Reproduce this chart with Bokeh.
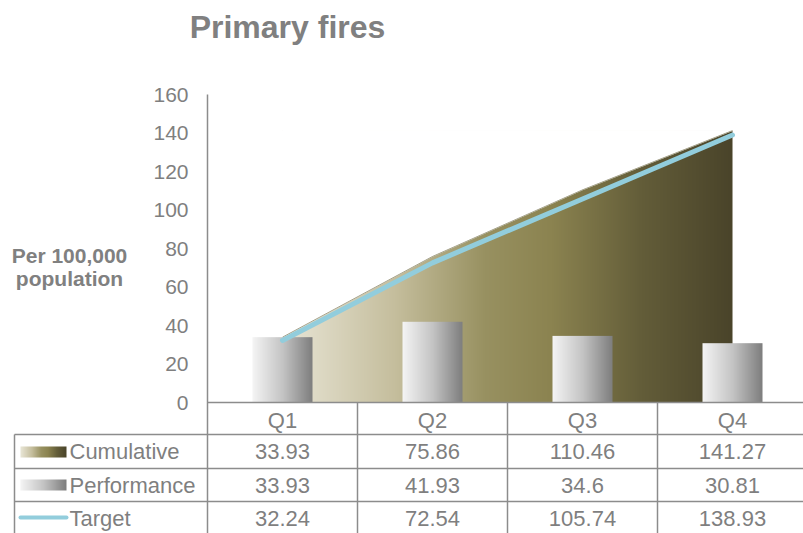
import numpy as np
from bokeh.plotting import figure
from bokeh.models import (ColumnDataSource, Range1d, LinearAxis, FixedTicker)
from bokeh.core.properties import value
from bokeh.embed import file_html
from bokeh.resources import INLINE

# ---- data -------------------------------------------------------------
quarters = ["Q1", "Q2", "Q3", "Q4"]
cumulative = [33.93, 75.86, 110.46, 141.27]
performance = [33.93, 41.93, 34.6, 30.81]
target = [32.24, 72.54, 105.74, 138.93]
series_names = ["Cumulative", "Performance", "Target"]
y_ticks = [0, 20, 40, 60, 80, 100, 120, 140, 160]
chart_title = "Primary fires"
y_label = ["Per 100,000", "population"]

# ---- canvas / scale geometry -------------------------------------------
W, H = 803, 533
X0_PX, X_UNIT_PX = 207, 150      # pixel of x=0, pixels per category
Y0_PX, Y_UNIT_PX = 402, 1.925    # pixel row of y=0, pixels per unit


def dx(px):
    return (px - X0_PX) / X_UNIT_PX


def dy(py):
    return (Y0_PX - py) / Y_UNIT_PX


GREY_TXT = "#7f7f7f"
GRID = "#8c8c8c"
FONT = "Liberation Sans"
TXT_SIZE = "22px"

xs = np.arange(len(quarters)) + 0.5

p = figure(width=W, height=H, output_backend="svg", toolbar_location=None,
           x_range=Range1d(dx(0), dx(W)), y_range=Range1d(dy(H), dy(0)),
           x_axis_type=None, y_axis_type=None, min_border=0)
p.outline_line_color = None
p.background_fill_color = "white"
p.border_fill_color = "white"


def gradient(stops, n):
    t = np.linspace(0, 1, n)
    pos = [s[0] for s in stops]
    img = np.empty((1, n), dtype=np.uint32)
    view = img.view(dtype=np.uint8).reshape((1, n, 4))
    for c in range(3):
        view[0, :, c] = np.interp(t, pos, [s[1][c] for s in stops]).astype(np.uint8)
    view[0, :, 3] = 255
    return img


olive = gradient([(0.0, (233, 230, 215)), (0.25, (197, 190, 157)),
                  (0.45, (152, 145, 97)), (0.6, (139, 131, 80)),
                  (0.8, (99, 93, 57)), (1.0, (74, 68, 42))], 450)
silver = gradient([(0.0, (244, 244, 244)), (0.5, (196, 196, 196)),
                   (1.0, (126, 126, 126))], 120)

# ---- cumulative area: gradient block trimmed by a white mask above the curve
p.image_rgba(image=[olive], x=xs[0], y=0, dw=xs[-1] - xs[0], dh=max(cumulative))
mask_x = list(xs) + [xs[-1], xs[0]]
mask_y = list(cumulative) + [max(cumulative), max(cumulative)]
p.patch(mask_x, mask_y, fill_color="white", line_color="white", line_width=1)
p.line(xs, cumulative, line_color="#6b6540", line_width=1, line_alpha=0.6)

# ---- performance bars with horizontal shading
bar_src = ColumnDataSource(dict(image=[silver] * len(quarters), x=xs - 0.2,
                                y=[0] * len(quarters), dw=[0.4] * len(quarters),
                                dh=performance))
p.image_rgba(image="image", x="x", y="y", dw="dw", dh="dh", source=bar_src)

# ---- target line
p.line(xs, target, line_color="#92cddc", line_width=5, line_cap="round")

# ---- axes
yaxis = LinearAxis(fixed_location=0, ticker=FixedTicker(ticks=y_ticks),
                   bounds=(dy(H), max(y_ticks)))
yaxis.axis_line_color = GRID
yaxis.axis_line_width = 1.5
yaxis.major_tick_out = 0
yaxis.major_tick_in = 0
yaxis.minor_tick_out = 0
yaxis.minor_tick_in = 0
yaxis.major_label_standoff = 19
yaxis.major_label_text_font = FONT
yaxis.major_label_text_font_size = "21px"
yaxis.major_label_text_color = GREY_TXT
p.add_layout(yaxis, "left")

xaxis = LinearAxis(fixed_location=0, ticker=FixedTicker(ticks=list(xs)),
                   bounds=(0, dx(W)),
                   major_label_overrides={float(x): q for x, q in zip(xs, quarters)})
xaxis.axis_line_color = GRID
xaxis.axis_line_width = 1.5
xaxis.major_tick_out = 0
xaxis.major_tick_in = 0
xaxis.minor_tick_out = 0
xaxis.minor_tick_in = 0
xaxis.major_label_standoff = 5
xaxis.major_label_text_font = FONT
xaxis.major_label_text_font_size = TXT_SIZE
xaxis.major_label_text_color = GREY_TXT
p.add_layout(xaxis, "below")

# ---- data table under the plot
row_lines_px = [434, 468, 501]
for r in row_lines_px:
    p.segment(dx(14), dy(r), dx(W), dy(r), line_color=GRID, line_width=1.5)
p.segment(dx(14), dy(434), dx(14), dy(H), line_color=GRID, line_width=1.5)
for b in range(1, len(quarters) + 1):
    p.segment(b, 0, b, dy(H), line_color=GRID, line_width=1.5)

row_centers = [dy(451), dy(485), dy(518)]
for name, yc in zip(series_names, row_centers):
    p.text(x=[dx(69)], y=[yc], text=[name], text_font=value(FONT),
           text_font_size=TXT_SIZE, text_color=GREY_TXT,
           text_baseline="middle", text_align="left")

for vals, yc in zip([cumulative, performance, target], row_centers):
    p.text(x=xs, y=[yc] * len(vals), text=[f"{v:g}" for v in vals],
           text_font=value(FONT), text_font_size=TXT_SIZE, text_color=GREY_TXT,
           text_baseline="middle", text_align="center")

# legend keys inside the first column
key_w = 46 / X_UNIT_PX
key_h = 11 / Y_UNIT_PX
p.image_rgba(image=[olive], x=dx(20), y=dy(457), dw=key_w, dh=key_h)
p.image_rgba(image=[silver], x=dx(20), y=dy(490), dw=key_w, dh=key_h)
p.line([dx(20), dx(66)], [dy(517), dy(517)], line_color="#92cddc",
       line_width=4, line_cap="round")

# ---- titles
p.text(x=[dx(287)], y=[dy(26)], text=[chart_title], text_font=value(FONT),
       text_font_style="bold", text_font_size="32px", text_color="#808080",
       text_baseline="middle", text_align="center")
p.text(x=[dx(69)] * 2, y=[dy(255), dy(278)], text=y_label, text_font=value(FONT),
       text_font_style="bold", text_font_size="21px", text_color="#808080",
       text_baseline="middle", text_align="center")

open("out.html", "w").write(file_html(p, INLINE))
